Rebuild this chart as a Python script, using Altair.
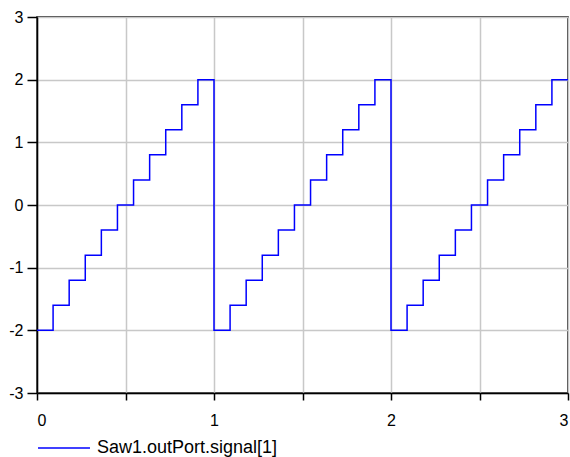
import altair as alt
import pandas as pd

times = [0.0, 0.0909, 0.1818, 0.2727, 0.3636, 0.4545, 0.5455, 0.6364, 0.7273, 0.8182, 0.9091,
         1.0, 1.0909, 1.1818, 1.2727, 1.3636, 1.4545, 1.5455, 1.6364, 1.7273, 1.8182, 1.9091,
         2.0, 2.0909, 2.1818, 2.2727, 2.3636, 2.4545, 2.5455, 2.6364, 2.7273, 2.8182, 2.9091,
         3.0]
values = [-2.0, -1.6, -1.2, -0.8, -0.4, 0.0, 0.4, 0.8, 1.2, 1.6, 2.0,
          -2.0, -1.6, -1.2, -0.8, -0.4, 0.0, 0.4, 0.8, 1.2, 1.6, 2.0,
          -2.0, -1.6, -1.2, -0.8, -0.4, 0.0, 0.4, 0.8, 1.2, 1.6, 2.0,
          2.0]
series_name = "Saw1.outPort.signal[1]"
x_ticks = [0, 0.5, 1, 1.5, 2, 2.5, 3]
y_ticks = [-3, -2, -1, 0, 1, 2, 3]

df = pd.DataFrame({"t": times, "v": values, "s": series_name})

common = dict(domainColor="#000000", domainWidth=1.5, tickColor="#000000", tickWidth=1.5,
              gridColor="#c8c8c8", gridWidth=1.5, labelFont="Liberation Sans", labelFontSize=16,
              labelColor="#000000", grid=True, title=None)

chart = alt.Chart(df).mark_line(interpolate="step-after", strokeWidth=1.5, clip=True).encode(
    x=alt.X("t:Q", scale=alt.Scale(domain=[0, 3], nice=False, zero=False),
            axis=alt.Axis(values=x_ticks,
                          labelExpr="datum.value % 1 == 0 ? '' + datum.value : ''",
                          tickSize=7, labelPadding=12, **common)),
    y=alt.Y("v:Q", scale=alt.Scale(domain=[-3, 3], nice=False, zero=False),
            axis=alt.Axis(values=y_ticks, labelExpr="'' + datum.value",
                          tickSize=10, labelPadding=4, **common)),
    color=alt.Color("s:N", scale=alt.Scale(range=["#0000ff"]),
                    legend=alt.Legend(title=None, orient="none", legendX=0, legendY=404,
                                      symbolType="stroke", symbolSize=2700, symbolStrokeWidth=1.5,
                                      labelFontSize=18, labelFont="Liberation Sans", labelColor="#000000",
                                      labelOffset=6, labelLimit=400, padding=0)),
).properties(
    width=531, height=376,
    autosize=alt.AutoSizeParams(type="none"),
    padding={"left": 37, "top": 17, "right": 2, "bottom": 64},
).configure_view(stroke="#000000", strokeWidth=1.5)

chart.save("out.html", embed_options={"renderer": "svg", "actions": False})
